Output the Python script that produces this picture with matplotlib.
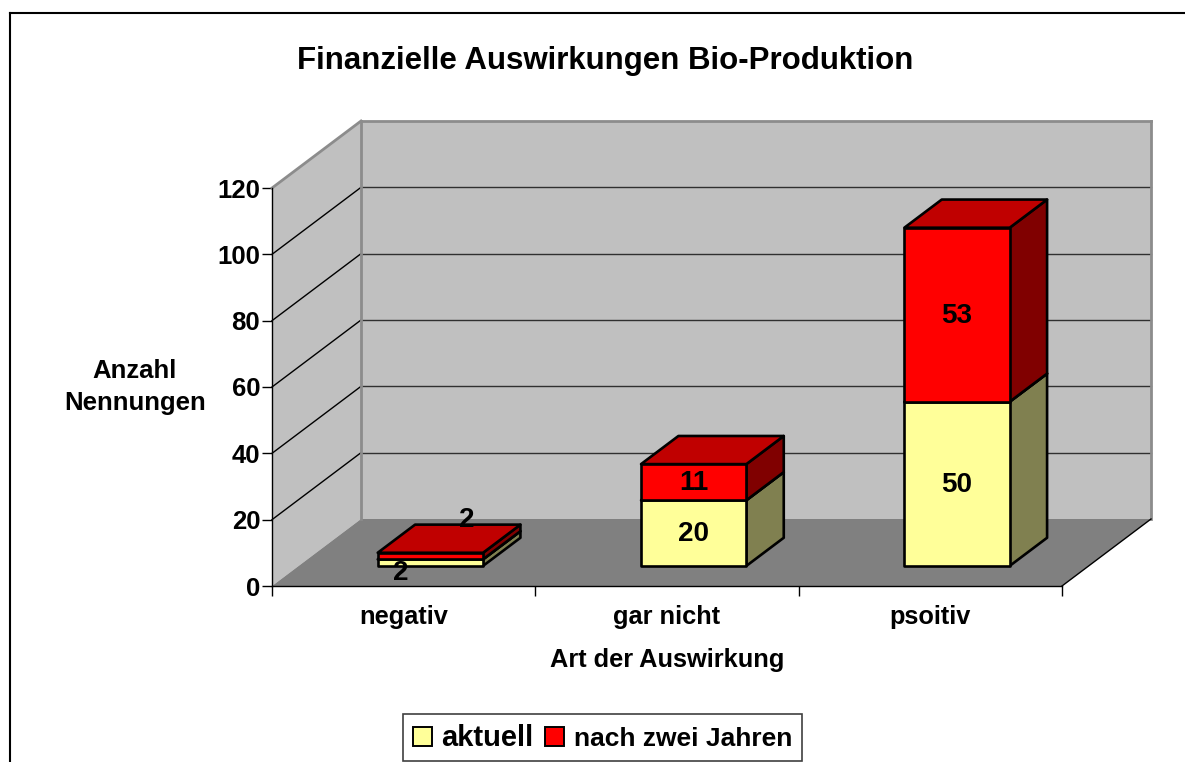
"""Stacked pseudo-3D column chart, drawn on a sheared floor/wall box."""

import matplotlib
matplotlib.use("Agg")
import matplotlib.pyplot as plt
from matplotlib.lines import Line2D
from matplotlib.patches import Patch, Polygon

W, H = 1185, 762
FONT = "Liberation Sans"

categories = ["negativ", "gar nicht", "psoitiv"]
aktuell = [2, 20, 50]
nach_zwei_jahren = [2, 11, 53]
y_ticks = [0, 20, 40, 60, 80, 100, 120]

# shear of the box: full depth in category and value units
DX = 89 / 263.3
DY = 67 / 3.317
BAR_W = 0.40
BAR_D0, BAR_D1 = 0.30, 0.72
BAR_SCALE = 0.99  # columns come out a touch shorter than the wall scale

YELLOW = ("#ffff99", "#808050", "#c0c080")
RED = ("#ff0000", "#800000", "#c00000")


def proj(x, v, d=0.0):
    return (x + d * DX, v + d * DY)


def face(ax, pts, color, edge="none", lw=0.0, z=1):
    ax.add_patch(Polygon(pts, closed=True, facecolor=color, edgecolor=edge,
                         linewidth=lw, clip_on=False, zorder=z, joinstyle="round"))


def segment(ax, c, lo, hi, colors, z):
    l, r = c - BAR_W / 2, c + BAR_W / 2
    lo, hi = lo * BAR_SCALE, hi * BAR_SCALE
    front, side, top = colors
    kw = dict(edge="black", lw=1.9, z=z)
    face(ax, [proj(r, lo, BAR_D0), proj(r, lo, BAR_D1), proj(r, hi, BAR_D1), proj(r, hi, BAR_D0)], side, **kw)
    face(ax, [proj(l, hi, BAR_D0), proj(r, hi, BAR_D0), proj(r, hi, BAR_D1), proj(l, hi, BAR_D1)], top, **kw)
    face(ax, [proj(l, lo, BAR_D0), proj(r, lo, BAR_D0), proj(r, hi, BAR_D0), proj(l, hi, BAR_D0)], front, **kw)


def bar_label(ax, c, mid, value, dx=0, dy=0):
    x, y = proj(c, mid * BAR_SCALE, BAR_D0)
    ax.annotate(str(value), (x, y), xytext=(dx * 0.72, dy * 0.72), textcoords="offset points",
                ha="center", va="center", fontsize=20, fontweight="bold",
                family=FONT, zorder=20, annotation_clip=False)


def main():
    fig = plt.figure(figsize=(W / 100, H / 100), dpi=100)
    ax = fig.add_axes([272 / W, 1 - 586 / H, 790 / W, 398 / H])
    ax.set_xlim(0, 3)
    ax.set_ylim(0, 120)
    ax.patch.set_visible(False)

    # outer chart frame, only top and left fall inside the picture
    for xs, ys in [((9.5, W), (13, 13)), ((9.5, 9.5), (13, H))]:
        fig.add_artist(Line2D([x / W for x in xs], [1 - y / H for y in ys],
                              color="black", lw=1.5))

    # walls and floor
    face(ax, [proj(0, 0, 1), proj(3, 0, 1), proj(3, 120, 1), proj(0, 120, 1)], "#c0c0c0")
    face(ax, [proj(0, 0), proj(0, 0, 1), proj(0, 120, 1), proj(0, 120)], "#c0c0c0")
    face(ax, [proj(0, 0), proj(3, 0), proj(3, 0, 1), proj(0, 0, 1)], "#808080")

    for v in y_ticks[1:-1]:
        a, b, c = proj(0, v), proj(0, v, 1), proj(3, v, 1)
        ax.plot([a[0], b[0]], [a[1], b[1]], color="black", lw=1.0, clip_on=False, zorder=2)
        ax.plot([b[0], c[0]], [b[1], c[1]], color="#303030", lw=1.0, clip_on=False, zorder=2)

    # grey outline of the wall box
    for p, q in [(proj(0, 120), proj(0, 120, 1)), (proj(0, 120, 1), proj(3, 120, 1)),
                 (proj(0, 0, 1), proj(0, 120, 1)), (proj(3, 0, 1), proj(3, 120, 1))]:
        ax.plot([p[0], q[0]], [p[1], q[1]], color="#8c8c8c", lw=2.0, clip_on=False, zorder=3)
    p, q = proj(3, 0), proj(3, 0, 1)
    ax.plot([p[0], q[0]], [p[1], q[1]], color="black", lw=1.0, clip_on=False, zorder=3)

    # columns
    for i, (a, b) in enumerate(zip(aktuell, nach_zwei_jahren)):
        c = i + 0.5
        segment(ax, c, 0, a, YELLOW, 5)
        segment(ax, c, a, a + b, RED, 6)

    bar_label(ax, 0.5, aktuell[0] / 2, aktuell[0], dx=-30, dy=-10)
    bar_label(ax, 0.5, aktuell[0] + nach_zwei_jahren[0] / 2, nach_zwei_jahren[0], dx=36, dy=36)
    for i in (1, 2):
        bar_label(ax, i + 0.5, aktuell[i] / 2, aktuell[i], dy=-1)
        bar_label(ax, i + 0.5, aktuell[i] + nach_zwei_jahren[i] / 2, nach_zwei_jahren[i], dy=-1)

    # axes
    for s in ("top", "right"):
        ax.spines[s].set_visible(False)
    for s in ("left", "bottom"):
        ax.spines[s].set_color("black")
        ax.spines[s].set_linewidth(1.0)
        ax.spines[s].set_zorder(4)
    ax.set_yticks(y_ticks)
    ax.set_xticks([0, 1, 2, 3], [])
    ax.set_xticks([0.5, 1.5, 2.5], categories, minor=True)
    ax.tick_params(axis="y", length=7, width=1, pad=1.5, labelsize=18.5)
    ax.tick_params(axis="x", which="major", length=7, width=1)
    ax.tick_params(axis="x", which="minor", length=0, pad=14, labelsize=18.3)
    for t in ax.get_yticklabels() + ax.get_xticklabels(minor=True):
        t.set_family(FONT)
        t.set_fontweight("bold")

    ax.set_ylabel("Anzahl\nNennungen", rotation=0, fontsize=18.5, fontweight="bold",
                  family=FONT, ha="center", va="center", linespacing=1.45)
    ax.yaxis.set_label_coords((135 - 272) / 790, (586 - 387) / 398)
    ax.set_xlabel("Art der Auswirkung", fontsize=18.3, fontweight="bold", family=FONT,
                  ha="center", va="center")
    ax.xaxis.set_label_coords((667 - 272) / 790, (586 - 660) / 398)

    fig.text(605 / W, 1 - 61 / H, "Finanzielle Auswirkungen Bio-Produktion", ha="center",
             va="center", fontsize=22.5, fontweight="bold", family=FONT)

    handles = [Patch(facecolor=YELLOW[0], edgecolor="black", linewidth=1.4),
               Patch(facecolor=RED[0], edgecolor="black", linewidth=1.4)]
    leg = fig.legend(handles, ["aktuell", "nach zwei Jahren"], ncols=2, loc="lower left",
                     bbox_to_anchor=(403 / W, 1 / H), borderaxespad=0, fancybox=False,
                     framealpha=1, edgecolor="#404040", prop=dict(family=FONT, weight="bold", size=19),
                     handlelength=0.72, handleheight=0.72, handletextpad=0.36, columnspacing=0.45,
                     borderpad=0.36)
    leg.get_frame().set_linewidth(1.2)
    leg.get_texts()[0].set_fontsize(21)
    leg.get_texts()[1].set_fontsize(19)

    fig.savefig("out.png", dpi=100)
    plt.close(fig)


if __name__ == "__main__":
    main()
